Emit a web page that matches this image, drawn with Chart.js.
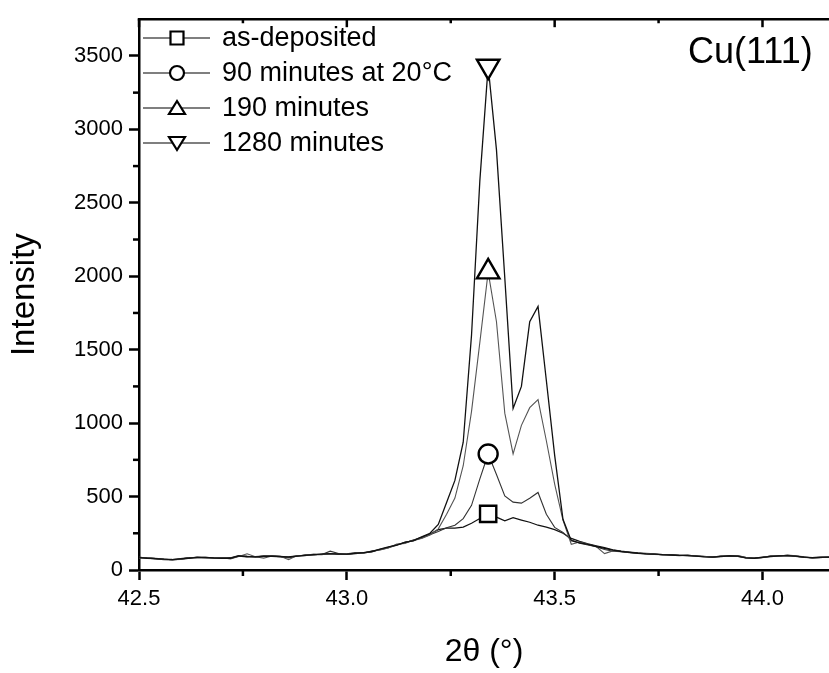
<!DOCTYPE html>
<html>
<head>
<meta charset="utf-8">
<script src="https://cdn.jsdelivr.net/npm/chart.js@4.4.1/dist/chart.umd.min.js"></script>
<style>
  html, body { margin: 0; padding: 0; background: #fff; }
  canvas { display: block; }
</style>
</head>
<body>
<canvas id="xrd" width="829" height="673"></canvas>
<script>
// 2theta grid (degrees)
const twoTheta = [
  42.50, 42.52, 42.54, 42.56, 42.58, 42.60, 42.62, 42.64, 42.66, 42.68,
  42.70, 42.72, 42.74, 42.76, 42.78, 42.80, 42.82, 42.84, 42.86, 42.88,
  42.90, 42.92, 42.94, 42.96, 42.98, 43.00, 43.02, 43.04, 43.06, 43.08,
  43.10, 43.12, 43.14, 43.16, 43.18, 43.20, 43.22, 43.24, 43.26, 43.28,
  43.30, 43.32, 43.34, 43.36, 43.38, 43.40, 43.42, 43.44, 43.46, 43.48,
  43.50, 43.52, 43.54, 43.56, 43.58, 43.60, 43.62, 43.64, 43.66, 43.68,
  43.70, 43.72, 43.74, 43.76, 43.78, 43.80, 43.82, 43.84, 43.86, 43.88,
  43.90, 43.92, 43.94, 43.96, 43.98, 44.00, 44.02, 44.04, 44.06, 44.08,
  44.10, 44.12, 44.14, 44.16
];

// intensity for each anneal time
const asDeposited = [
  85, 82, 78, 72, 68, 74, 82, 86, 84, 80,
  82, 79, 94, 90, 92, 94, 96, 92, 90, 96,
  100, 104, 108, 110, 110, 108, 112, 116, 124, 140,
  155, 172, 186, 202, 222, 245, 275, 285, 285, 292,
  318, 350, 382, 360, 335, 356, 340, 325, 305, 292,
  275, 250, 215, 195, 178, 165, 152, 138, 128, 122,
  116, 112, 108, 105, 104, 100, 100, 96, 92, 88,
  92, 98, 96, 84, 80, 86, 94, 96, 100, 95,
  88, 82, 86, 88
];
const min90 = [
  88, 80, 76, 70, 72, 78, 84, 84, 86, 82,
  80, 84, 98, 94, 88, 96, 92, 88, 82, 94,
  104, 102, 106, 128, 112, 106, 114, 118, 128, 138,
  152, 168, 190, 198, 218, 240, 262, 288, 305, 350,
  440, 620, 790, 650, 505, 462, 455, 488, 528, 380,
  290, 255, 205, 182, 170, 158, 140, 128, 124, 118,
  114, 110, 106, 104, 100, 98, 102, 94, 90, 90,
  94, 96, 92, 82, 82, 88, 92, 98, 98, 92,
  86, 84, 88, 86
];
const min190 = [
  80, 84, 80, 74, 70, 72, 80, 88, 82, 84,
  84, 76, 92, 110, 90, 80, 96, 94, 70, 98,
  98, 108, 104, 112, 106, 110, 118, 112, 130, 136,
  150, 176, 180, 205, 215, 238, 280, 380, 490, 710,
  1080, 1550, 2030, 1690, 1068, 790, 985, 1105, 1160, 880,
  585, 340, 175, 190, 176, 160, 112, 130, 126, 120,
  112, 114, 110, 102, 106, 100, 98, 96, 94, 86,
  96, 94, 98, 86, 78, 84, 96, 94, 102, 96,
  90, 80, 84, 90
];
const min1280 = [
  84, 80, 78, 74, 70, 76, 80, 86, 86, 82,
  80, 80, 96, 92, 90, 92, 94, 92, 88, 94,
  100, 104, 108, 112, 108, 108, 114, 118, 126, 142,
  158, 170, 188, 200, 225, 250, 310, 460, 610, 870,
  1600, 2650, 3430, 2860, 1990, 1100, 1250, 1690, 1795, 1290,
  780, 345, 200, 185, 175, 160, 148, 135, 126, 120,
  114, 110, 108, 104, 102, 100, 98, 94, 90, 88,
  92, 96, 94, 82, 80, 86, 92, 96, 98, 94,
  88, 84, 86, 88
];

const seriesLabels = ['as-deposited', '90 minutes at 20°C', '190 minutes', '1280 minutes'];
const xTickValues = [42.5, 43.0, 43.5, 44.0];
const yTickValues = [0, 500, 1000, 1500, 2000, 2500, 3000, 3500];
const markerAt = 43.34; // only one symbol per curve, at the Cu(111) peak

const FONT = "'Liberation Sans', Arial, sans-serif";
const markerIndex = twoTheta.findIndex(v => Math.abs(v - markerAt) < 1e-6);

function toPoints(values) {
  return values.map((v, i) => ({ x: twoTheta[i], y: v }));
}

function makeSet(label, values, color, width, style, radius, rotation) {
  return {
    label: label,
    data: toPoints(values),
    borderColor: color,
    borderWidth: width,
    tension: 0,
    pointStyle: style,
    pointRotation: rotation,
    pointRadius: (ctx) => ctx.dataIndex === markerIndex ? radius : 0,
    pointHoverRadius: 0,
    pointBackgroundColor: '#fff',
    pointBorderColor: '#000',
    pointBorderWidth: 2.4
  };
}

// legend symbols drawn by hand: line - marker - line
function drawMarker(ctx, style, x, y) {
  ctx.beginPath();
  if (style === 'square') {
    ctx.rect(x - 6.5, y - 6.5, 13, 13);
  } else if (style === 'circle') {
    ctx.arc(x, y, 7, 0, Math.PI * 2);
  } else if (style === 'up') {
    ctx.moveTo(x, y - 7);
    ctx.lineTo(x + 8, y + 6);
    ctx.lineTo(x - 8, y + 6);
    ctx.closePath();
  } else {
    ctx.moveTo(x, y + 7);
    ctx.lineTo(x + 8, y - 6);
    ctx.lineTo(x - 8, y - 6);
    ctx.closePath();
  }
  ctx.fillStyle = '#fff';
  ctx.fill();
  ctx.lineWidth = 2.2;
  ctx.strokeStyle = '#000';
  ctx.stroke();
}

const extras = {
  id: 'extras',
  afterDraw(chart) {
    const ctx = chart.ctx;
    const area = chart.chartArea;
    const xs = chart.scales.x;
    const ys = chart.scales.y;
    ctx.save();
    ctx.strokeStyle = '#000';
    ctx.lineWidth = 2.5;

    // top frame
    ctx.beginPath();
    ctx.moveTo(area.left - 1.25, area.top);
    ctx.lineTo(area.right, area.top);
    ctx.stroke();

    // minor ticks on bottom axis, inward ticks on top frame
    for (let v = 42.5; v <= 44.16; v += 0.25) {
      const px = xs.getPixelForValue(v);
      const major = Math.abs(v * 2 - Math.round(v * 2)) < 1e-6;
      ctx.beginPath();
      if (!major) {
        ctx.moveTo(px, area.bottom);
        ctx.lineTo(px, area.bottom + 6);
      }
      ctx.moveTo(px, area.top);
      ctx.lineTo(px, area.top + (major ? 8 : 4));
      ctx.stroke();
    }
    // minor ticks on y axis
    for (let v = 250; v < 3750; v += 500) {
      const py = ys.getPixelForValue(v);
      ctx.beginPath();
      ctx.moveTo(area.left, py);
      ctx.lineTo(area.left - 6, py);
      ctx.stroke();
    }

    // legend
    const styles = ['square', 'circle', 'up', 'down'];
    const rows = [38, 73, 108, 143];
    ctx.font = '27px ' + FONT;
    ctx.textBaseline = 'middle';
    ctx.textAlign = 'left';
    ctx.fillStyle = '#000';
    seriesLabels.forEach((label, i) => {
      const y = rows[i];
      ctx.beginPath();
      ctx.lineWidth = 1.2;
      ctx.moveTo(143, y);
      ctx.lineTo(210, y);
      ctx.stroke();
      drawMarker(ctx, styles[i], 177, y);
      ctx.fillStyle = '#000';
      ctx.fillText(label, 222, y + 1);
    });

    // reflection label
    ctx.font = '36px ' + FONT;
    ctx.textBaseline = 'alphabetic';
    ctx.fillText('Cu(111)', 688, 63);
    ctx.restore();
  }
};

new Chart(document.getElementById('xrd'), {
  type: 'line',
  data: {
    datasets: [
      makeSet(seriesLabels[3], min1280, '#111', 1.3, 'triangle', 13, 180),
      makeSet(seriesLabels[2], min190, '#555', 1.1, 'triangle', 13, 0),
      makeSet(seriesLabels[1], min90, '#333', 1.1, 'circle', 9.5, 0),
      makeSet(seriesLabels[0], asDeposited, '#111', 1.2, 'rect', 11.5, 0)
    ]
  },
  options: {
    responsive: false,
    animation: false,
    layout: { padding: { top: 11, right: 0, left: 0, bottom: 0 } },
    plugins: {
      legend: { display: false },
      tooltip: { enabled: false }
    },
    scales: {
      x: {
        type: 'linear',
        min: 42.5,
        max: 44.16,
        afterBuildTicks(scale) { scale.ticks = xTickValues.map(v => ({ value: v })); },
        ticks: {
          autoSkip: false,
          maxRotation: 0,
          color: '#000',
          padding: 6,
          font: { family: FONT, size: 22 },
          callback: (v) => Number(v).toFixed(1)
        },
        grid: { drawOnChartArea: false, tickLength: 10, tickWidth: 2.5, tickColor: '#000' },
        border: { color: '#000', width: 2.5 },
        title: {
          display: true,
          text: '2θ (°)',
          color: '#000',
          font: { family: FONT, size: 32 },
          padding: { top: 0, bottom: 2 }
        },
        afterFit(scale) { scale.height = 103; }
      },
      y: {
        min: 0,
        max: 3750,
        afterBuildTicks(scale) { scale.ticks = yTickValues.map(v => ({ value: v })); },
        ticks: {
          autoSkip: false,
          color: '#000',
          padding: 6,
          font: { family: FONT, size: 22 },
          callback: (v) => String(v)
        },
        grid: { drawOnChartArea: false, tickLength: 10, tickWidth: 2.5, tickColor: '#000' },
        border: { color: '#000', width: 2.5 },
        title: {
          display: true,
          text: 'Intensity',
          color: '#000',
          font: { family: FONT, size: 33 },
          padding: { top: 5, bottom: 0 }
        },
        afterFit(scale) { scale.width = 139; }
      }
    }
  },
  plugins: [extras]
});
</script>
</body>
</html>
